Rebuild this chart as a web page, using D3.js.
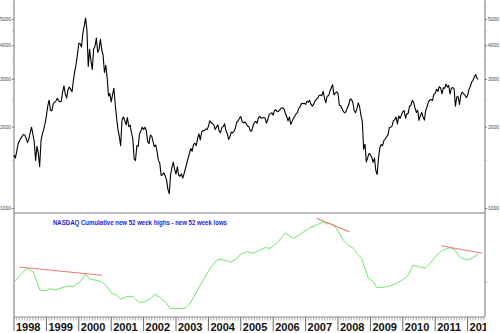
<!DOCTYPE html>
<html>
<head>
<meta charset="utf-8">
<script src="https://cdn.jsdelivr.net/npm/d3@7/dist/d3.min.js"></script>
<style>
  html, body { margin: 0; padding: 0; background: #fff; }
  svg { display: block; }
</style>
</head>
<body>
<svg id="chart" width="500" height="333"></svg>
<script>
// NASDAQ Composite, semi-monthly closes from Jan 1998 (one value every half month)
const priceStartYear = 1998;
const pricesPerYear = 24;
const nasdaqPrices = [
  // 1998
  1570, 1530, 1620, 1720, 1771, 1810, 1840, 1870, 1860, 1810, 1745, 1800,
  1900, 1990, 1870, 1760, 1500, 1690, 1600, 1420, 1770, 1880, 1950, 2050,
  // 1999
  2193, 2380, 2505, 2300, 2288, 2420, 2461, 2480, 2543, 2500, 2471, 2480,
  2686, 2830, 2638, 2550, 2739, 2800, 2746, 2690, 2966, 3200, 3400, 3700,
  // 2000
  4069, 4050, 3940, 4420, 4697, 5040, 4573, 3340, 3861, 3500, 3250, 3870,
  3966, 4250, 3767, 3860, 4206, 3840, 3673, 3170, 3370, 3030, 2598, 2650,
  // 2001
  2470, 2620, 2773, 2420, 2152, 1950, 1840, 1700, 2116, 2170, 2110, 2030,
  2161, 2000, 2027, 1900, 1805, 1520, 1499, 1700, 1690, 1880, 1931, 1990,
  // 2002
  1950, 1990, 1934, 1760, 1731, 1860, 1845, 1760, 1688, 1710, 1616, 1500,
  1463, 1320, 1328, 1350, 1315, 1270, 1172, 1130, 1330, 1410, 1479, 1390,
  // 2003
  1336, 1420, 1321, 1310, 1338, 1290, 1341, 1400, 1464, 1530, 1596, 1660,
  1623, 1720, 1735, 1700, 1810, 1880, 1787, 1910, 1932, 1930, 1960, 1950,
  // 2004
  2003, 2100, 2066, 2050, 2030, 1950, 1994, 2030, 1920, 1900, 1987, 2000,
  2048, 1930, 1887, 1790, 1838, 1910, 1897, 1920, 1975, 2080, 2097, 2150,
  // 2005
  2175, 2090, 2062, 2080, 2052, 2010, 1999, 1930, 1922, 2010, 2068, 2090,
  2057, 2150, 2185, 2150, 2152, 2160, 2152, 2060, 2120, 2220, 2233, 2250,
  // 2006
  2205, 2300, 2306, 2270, 2281, 2310, 2340, 2350, 2323, 2240, 2179, 2100,
  2172, 2040, 2091, 2150, 2184, 2230, 2258, 2340, 2367, 2440, 2432, 2440,
  // 2007
  2415, 2480, 2464, 2500, 2416, 2380, 2422, 2490, 2525, 2550, 2605, 2620,
  2603, 2700, 2546, 2450, 2596, 2600, 2701, 2780, 2859, 2620, 2661, 2690,
  // 2008
  2652, 2400, 2389, 2330, 2271, 2250, 2279, 2350, 2413, 2530, 2523, 2450,
  2293, 2250, 2326, 2450, 2368, 2200, 2092, 1650, 1721, 1480, 1536, 1590,
  // 2009
  1577, 1540, 1476, 1530, 1378, 1330, 1529, 1670, 1717, 1700, 1774, 1800,
  1835, 1860, 1979, 1990, 2009, 2100, 2122, 2170, 2045, 2190, 2145, 2210,
  // 2010
  2269, 2290, 2147, 2230, 2238, 2380, 2398, 2500, 2461, 2350, 2257, 2300,
  2109, 2200, 2255, 2170, 2114, 2300, 2369, 2470, 2507, 2520, 2498, 2630,
  // 2011
  2653, 2750, 2700, 2810, 2782, 2640, 2781, 2770, 2874, 2800, 2835, 2640,
  2774, 2790, 2756, 2380, 2579, 2580, 2415, 2620, 2684, 2640, 2620, 2560,
  // 2012
  2605, 2740, 2814, 2920, 2967, 3050, 3120, 3010, 2990
];

// Price axis tick labels and unlabeled minor ticks (log scale)
const priceTickValues = [1000, 2000, 3000, 4000, 5000];
const priceMinorTicks = [1500, 2500, 3500, 4500, 5500];

// Cumulative new 52-week highs minus new 52-week lows
const breadthYears = [
  1998.03, 1998.39, 1998.59, 1998.80, 1998.96, 1999.11, 1999.27, 1999.51, 1999.67, 1999.82,
  2000.04, 2000.21, 2000.35, 2000.55, 2000.71, 2000.86, 2001.02, 2001.17, 2001.29, 2001.48,
  2001.68, 2001.87, 2002.04, 2002.20, 2002.35, 2002.51, 2002.71, 2002.81, 2003.02, 2003.28,
  2003.43, 2003.64, 2003.84, 2004.05, 2004.26, 2004.36, 2004.51, 2004.67, 2004.82, 2004.98,
  2005.18, 2005.39, 2005.59, 2005.75, 2005.90, 2006.11, 2006.36, 2006.47, 2006.62, 2006.77,
  2006.93, 2007.14, 2007.34, 2007.55, 2007.65, 2007.75, 2007.91, 2008.01, 2008.16, 2008.32,
  2008.47, 2008.58, 2008.73, 2008.83, 2008.94, 2009.09, 2009.19, 2009.40, 2009.60, 2009.81,
  2010.02, 2010.17, 2010.32, 2010.48, 2010.69, 2010.84, 2011.05, 2011.25, 2011.46, 2011.61,
  2011.77, 2011.97, 2012.13, 2012.33
];
const breadthValues = [
  100, 1370, 1030, -800, -870, -670, -800, -530, -400, -470,
  30, 770, 270, 170, 30, -400, -1130, -1300, -1730, -1470,
  -1470, -2070, -1970, -1670, -1230, -1570, -2130, -2630, -2670, -2630,
  -2130, -970, 200, 1370, 2200, 2300, 2170, 2000, 2200, 2700,
  3030, 2870, 3200, 3430, 3370, 3870, 4870, 4700, 4370, 4600,
  5000, 5430, 5700, 6030, 5800, 5870, 5530, 5030, 4200, 3700,
  3370, 2870, 2370, 1370, 370, 30, -530, -530, -400, -130,
  270, 700, 1700, 1530, 1370, 1870, 2700, 3200, 3430, 3200,
  2470, 2200, 2370, 2800
];

// Divergence trend lines drawn over the breadth line
const trendStartYears = [1998.16, 2007.34, 2011.18];
const trendStartValues = [1500, 6370, 3630];
const trendEndYears = [2000.71, 2008.35, 2012.45];
const trendEndValues = [670, 5030, 2870];

const yearLabels = ["1998", "1999", "2000", "2001", "2002", "2003", "2004",
                    "2005", "2006", "2007", "2008", "2009", "2010", "2011", "2012"];

const titleText = "NASDAQ Cumulative new 52 week highs - new 52 week lows";

// ---- layout ----
const left = 14, right = 485;
const priceBottom = 213;
const breadthTop = 213, axisY = 317;

const svg = d3.select("#chart");

// year labels stop at the right frame edge
svg.append("defs").append("clipPath")
  .attr("id", "label-clip")
  .append("rect")
  .attr("x", 0).attr("y", 0)
  .attr("width", right + 1).attr("height", 333);

const x = d3.scaleLinear()
  .domain([1998, 2012.537])
  .range([left, right]);

const yPrice = d3.scaleLog()
  .domain([1000, 5000])
  .range([208, 19]);

const yBreadth = d3.scaleLinear()
  .domain([-3500, 6900])
  .range([axisY, breadthTop]);

const axisColor = "#8a8a8a";

// ---- frame ----
svg.append("line")
  .attr("x1", left).attr("x2", left)
  .attr("y1", 0).attr("y2", axisY)
  .attr("stroke", axisColor).attr("stroke-width", 1.2);
svg.append("line")
  .attr("x1", right).attr("x2", right)
  .attr("y1", 0).attr("y2", axisY)
  .attr("stroke", axisColor).attr("stroke-width", 1.2);
svg.append("line")
  .attr("x1", left).attr("x2", right)
  .attr("y1", priceBottom).attr("y2", priceBottom)
  .attr("stroke", "#a8a8a8").attr("stroke-width", 1.6);
svg.append("line")
  .attr("x1", left).attr("x2", right)
  .attr("y1", axisY).attr("y2", axisY)
  .attr("stroke", axisColor).attr("stroke-width", 1);

// ---- price axes (both sides) ----
const leftAxis = d3.axisLeft(yPrice)
  .tickValues(priceTickValues)
  .tickFormat(d3.format("d"))
  .tickSize(2).tickPadding(1);
const rightAxis = d3.axisRight(yPrice)
  .tickValues(priceTickValues)
  .tickFormat(d3.format("d"))
  .tickSize(2).tickPadding(1);

function styleAxis(g) {
  g.select(".domain").remove();
  g.selectAll(".tick line").attr("stroke", "#777");
  g.selectAll(".tick text")
    .attr("fill", "#444")
    .style("font-family", "Arial, 'Liberation Sans', sans-serif")
    .style("font-size", "5px");
}

svg.append("g").attr("transform", `translate(${left},0)`).call(leftAxis).call(styleAxis);
svg.append("g").attr("transform", `translate(${right},0)`).call(rightAxis).call(styleAxis);

// minor ticks
[left, right].forEach(px => {
  svg.append("g").selectAll("line")
    .data(priceMinorTicks)
    .join("line")
    .attr("x1", px === left ? px - 1.5 : px)
    .attr("x2", px === left ? px : px + 1.5)
    .attr("y1", d => yPrice(d)).attr("y2", d => yPrice(d))
    .attr("stroke", "#999").attr("stroke-width", 0.8);
});

// small zero tick on the right side of the breadth panel
svg.append("line")
  .attr("x1", right).attr("x2", right + 2)
  .attr("y1", yBreadth(0)).attr("y2", yBreadth(0))
  .attr("stroke", "#999").attr("stroke-width", 0.8);

// ---- time axis ----
const monthTicks = d3.range(0, 14 * 12 + 7).map(m => 1998 + m / 12);
svg.append("g").selectAll("line")
  .data(monthTicks)
  .join("line")
  .attr("x1", d => x(d)).attr("x2", d => x(d))
  .attr("y1", axisY)
  .attr("y2", (d, i) => i % 12 === 0 ? axisY + 14 : axisY + 3.5)
  .attr("stroke", (d, i) => i % 12 === 0 ? "#666" : "#999")
  .attr("stroke-width", (d, i) => i % 12 === 0 ? 1 : 0.8);

svg.append("g")
  .attr("clip-path", "url(#label-clip)")
  .selectAll("text")
  .data(yearLabels)
  .join("text")
  .attr("x", d => x(+d) + 2)
  .attr("y", 331)
  .attr("fill", "#111")
  .style("font-family", "Arial, 'Liberation Sans', sans-serif")
  .style("font-size", "11px")
  .style("font-weight", "bold")
  .text(d => d);

// ---- price line ----
const priceLine = d3.line()
  .x((d, i) => x(priceStartYear + i / pricesPerYear))
  .y(d => yPrice(d));

svg.append("path")
  .datum(nasdaqPrices)
  .attr("fill", "none")
  .attr("stroke", "#000")
  .attr("stroke-width", 1.1)
  .attr("stroke-linejoin", "round")
  .attr("d", priceLine);

// ---- breadth panel ----
svg.append("text")
  .attr("x", 53)
  .attr("y", 224.5)
  .attr("fill", "#1a1adf")
  .attr("textLength", 174)
  .attr("lengthAdjust", "spacingAndGlyphs")
  .style("font-family", "Arial, 'Liberation Sans', sans-serif")
  .style("font-size", "7px")
  .style("font-weight", "bold")
  .text(titleText);

const breadthLine = d3.line()
  .x((d, i) => x(breadthYears[i]))
  .y(d => yBreadth(d));

svg.append("path")
  .datum(breadthValues)
  .attr("fill", "none")
  .attr("stroke", "#6fe36f")
  .attr("stroke-width", 1)
  .attr("stroke-linejoin", "round")
  .attr("d", breadthLine);

svg.append("g").selectAll("line")
  .data(trendStartYears)
  .join("line")
  .attr("x1", d => x(d))
  .attr("y1", (d, i) => yBreadth(trendStartValues[i]))
  .attr("x2", (d, i) => x(trendEndYears[i]))
  .attr("y2", (d, i) => yBreadth(trendEndValues[i]))
  .attr("stroke", "#ec7a72")
  .attr("stroke-width", 1.1);
</script>
</body>
</html>
